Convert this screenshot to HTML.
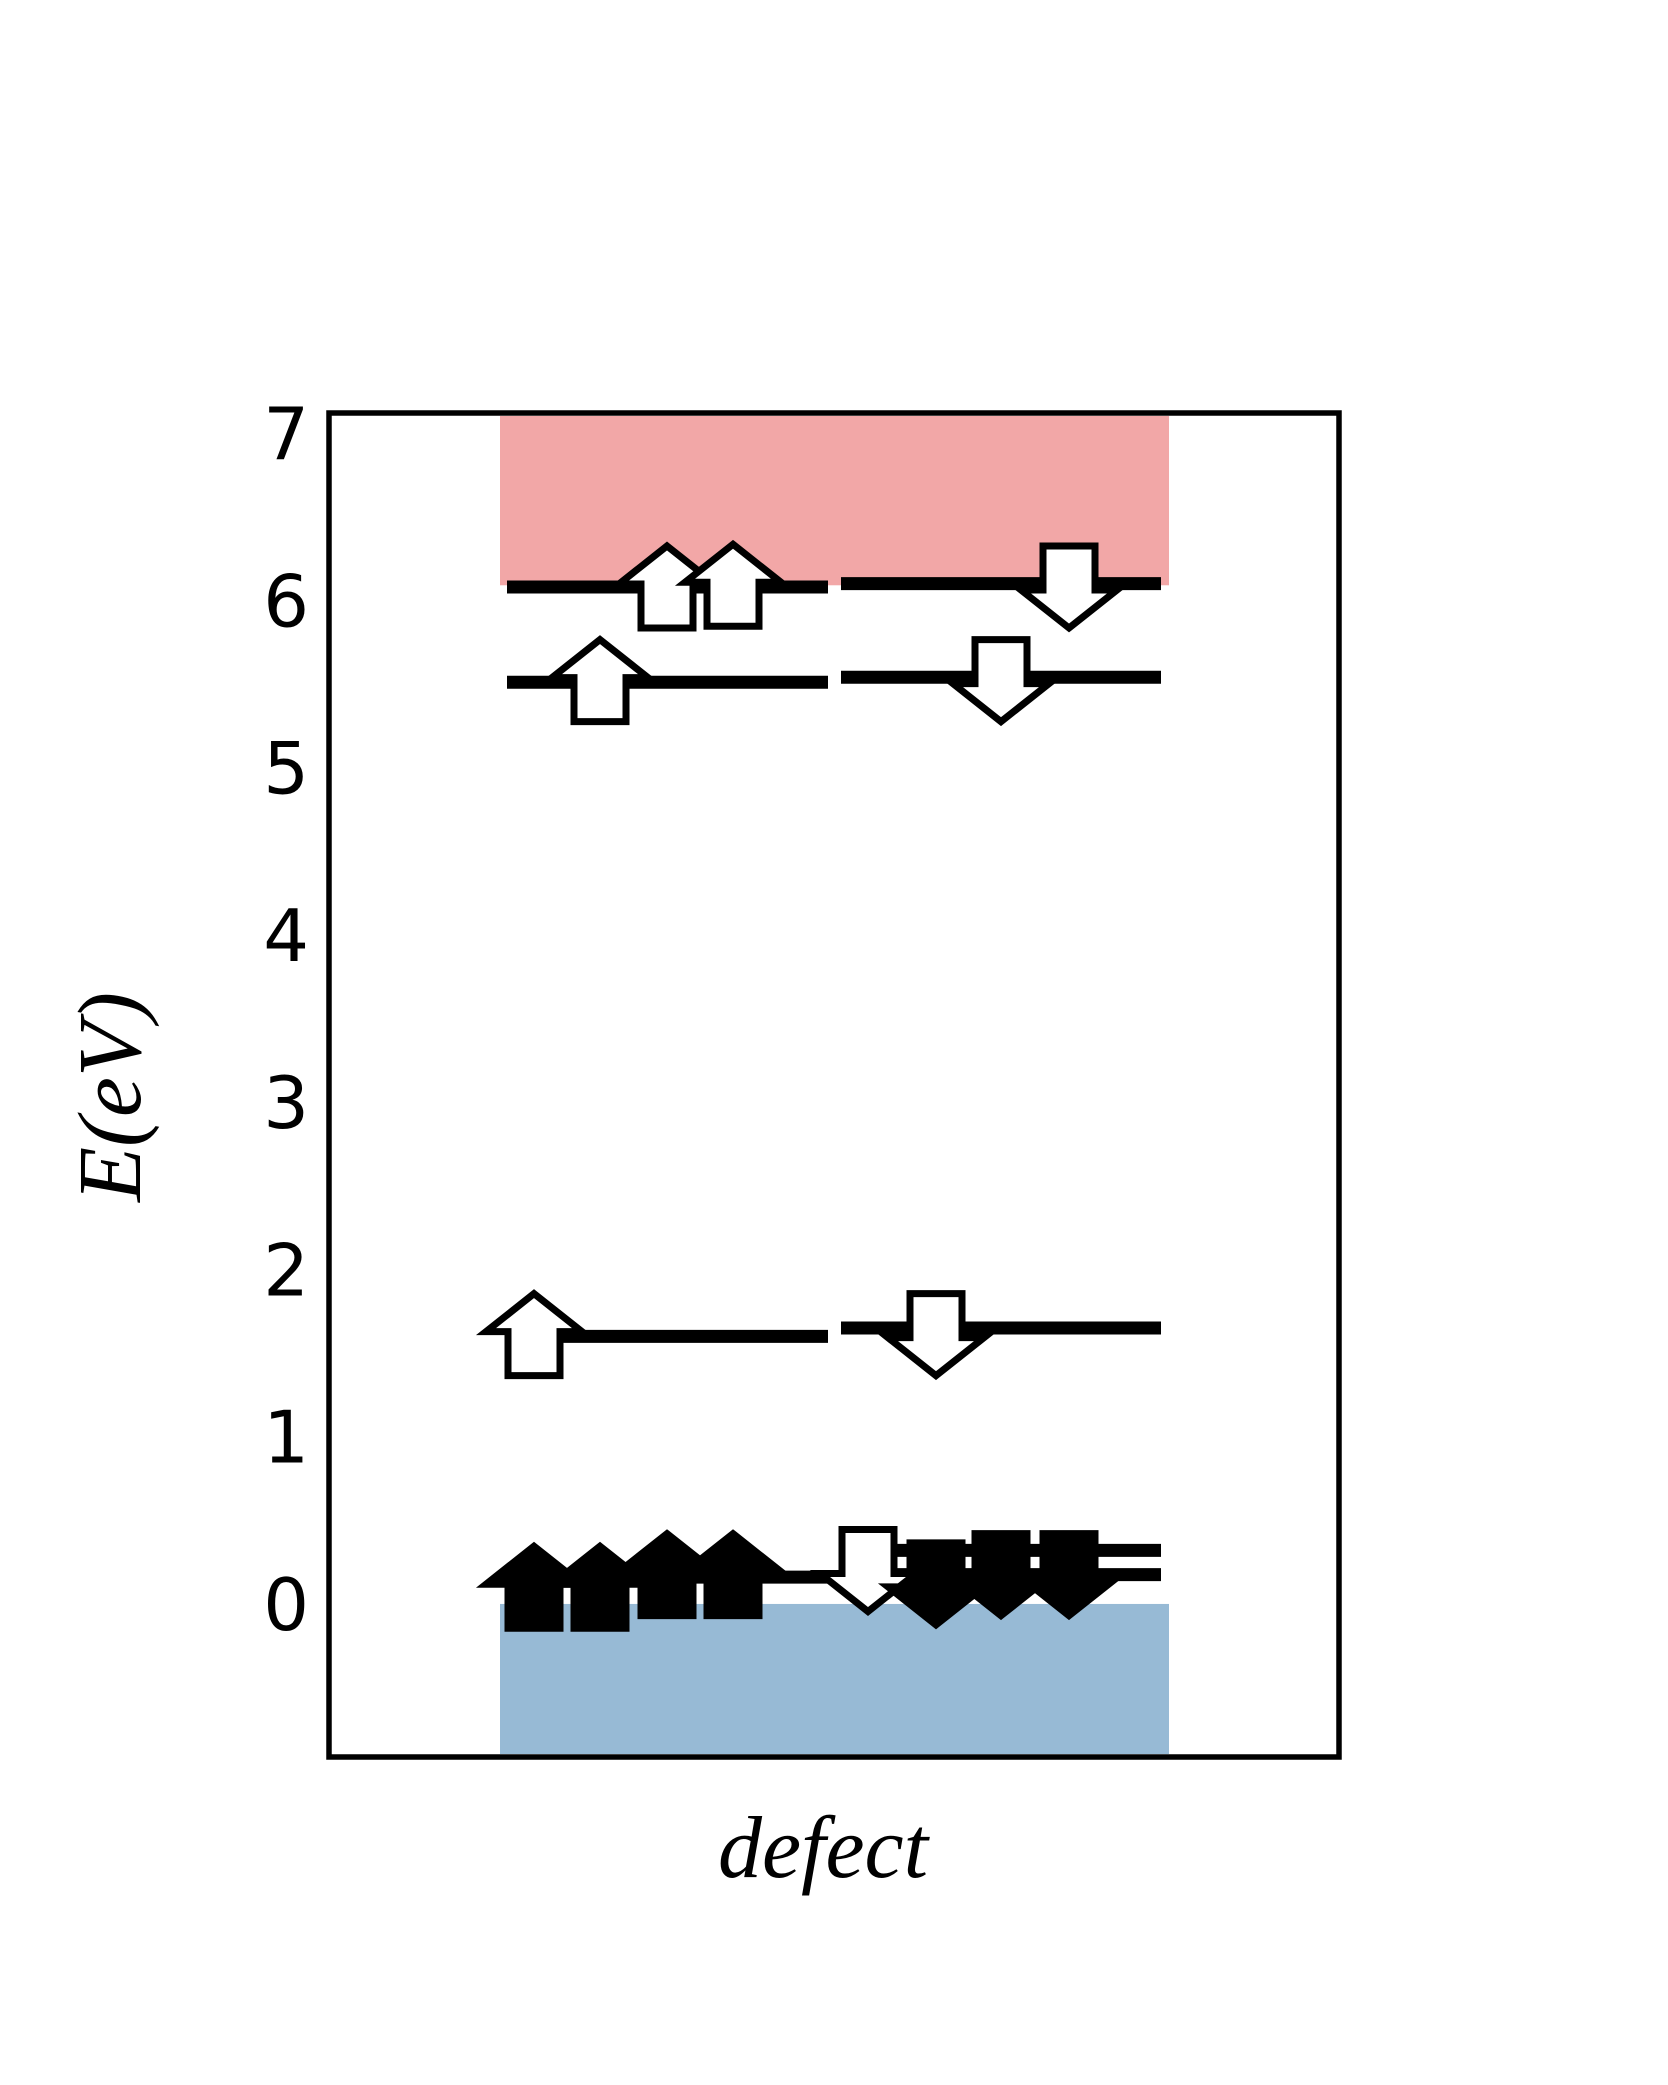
<!DOCTYPE html>
<html><head><meta charset="utf-8"><style>
html,body{margin:0;padding:0;background:#fff;}
svg{display:block;}
</style></head><body>
<svg id="chart" width="1668" height="2085" viewBox="0 0 1668 2085" xmlns="http://www.w3.org/2000/svg">
<g id="bands"></g>
<g id="levels"></g>
<g id="arrows"></g>
<rect x="329" y="413" width="1010" height="1344" fill="none" stroke="#000" stroke-width="5.5"/>
<g id="ticks" font-family="DejaVu Sans, Liberation Sans, sans-serif" font-size="72" text-anchor="end"></g>
<text x="823" y="1877" font-family="Liberation Serif, serif" font-style="italic" font-size="88" text-anchor="middle">defect</text>
<text transform="translate(140,1097) rotate(-90)" font-family="Liberation Serif, serif" font-style="italic" font-size="90" text-anchor="middle">E(eV)</text>
</svg>
<script>
const yTicks = [0,1,2,3,4,5,6,7];
const yMin = -0.915, yMax = 7.12;
const cbmEnergy = 6.09;
const vbmEnergy = 0;
const upLevels = [6.08, 5.51, 1.60, 0.16];
const downLevels = [6.10, 5.54, 1.65, 0.32, 0.175];
const upArrowSlot = [0, 1, 2, 3, 0, 1, 2, 3];
const upArrowE = [1.61, 5.52, 6.08, 6.09, 0.10, 0.10, 0.175, 0.175];
const upArrowFilled = [0, 0, 0, 0, 1, 1, 1, 1];
const downArrowSlot = [3, 2, 1, 0, 1, 2, 3];
const downArrowE = [6.08, 5.52, 1.61, 0.20, 0.12, 0.175, 0.175];
const downArrowFilled = [0, 0, 0, 0, 1, 1, 1];

const NS = 'http://www.w3.org/2000/svg';
const plotTop = 413, plotBot = 1757;
function yScale(v){ return plotBot - (v - yMin) / (yMax - yMin) * (plotBot - plotTop); }
const upSlotX = [534, 600, 667, 733];
const downSlotX = [868, 936, 1001, 1069];
function mk(tag, attrs, parent){ const e=document.createElementNS(NS,tag); for(const k in attrs) e.setAttribute(k,attrs[k]); parent.appendChild(e); return e; }

const bands = document.getElementById('bands');
const cb = mk('rect',{x:500,y:plotTop+3,width:669,height:yScale(cbmEnergy)-plotTop-3,fill:'#f2a7a7'},bands);


const vb = mk('rect',{x:500,y:yScale(vbmEnergy),width:669,height:plotBot-yScale(vbmEnergy)-3,fill:'#97bad5'},bands);



const lv = document.getElementById('levels');
upLevels.forEach(e=>{
  const l = mk('line',{x1:507,x2:828,y1:yScale(e),y2:yScale(e),stroke:'#000','stroke-width':13},lv);
  
  
});
downLevels.forEach(e=>{
  const l = mk('line',{x1:841,x2:1161,y1:yScale(e),y2:yScale(e),stroke:'#000','stroke-width':13},lv);
  
  
});

const H = 82, HW = 48, SW = 26, HH = 38;
function arrowPath(cx, cy, dir){
  const t = cy - dir*H/2, b = cy + dir*H/2, n = t + dir*HH;
  return `M${cx},${t} L${cx+HW},${n} L${cx+SW},${n} L${cx+SW},${b} L${cx-SW},${b} L${cx-SW},${n} L${cx-HW},${n} Z`;
}
const ar = document.getElementById('arrows');
upArrowE.forEach((e,i)=>{
  const p = mk('path',{d:arrowPath(upSlotX[upArrowSlot[i]], yScale(e), 1),fill:upArrowFilled[i]?'#000':'#fff',stroke:'#000','stroke-width':7},ar);
  
  
});
downArrowE.forEach((e,i)=>{
  const p = mk('path',{d:arrowPath(downSlotX[downArrowSlot[i]], yScale(e), -1),fill:downArrowFilled[i]?'#000':'#fff',stroke:'#000','stroke-width':7},ar);
  
  
});

const tk = document.getElementById('ticks');
yTicks.forEach(v=>{
  const t = mk('text',{x:309,y:yScale(v)+26},tk);
  t.textContent = v;
  
  
});
</script>
</body></html>
